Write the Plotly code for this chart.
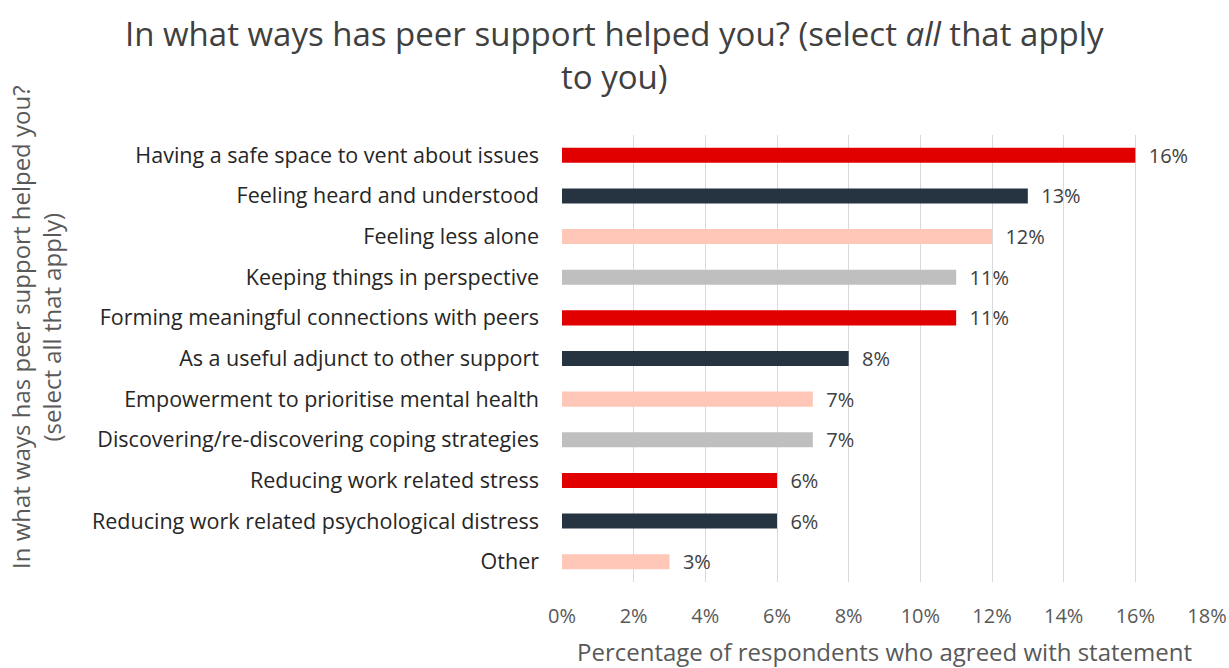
import plotly.graph_objects as go

categories = [
    "Having a safe space to vent about issues",
    "Feeling heard and understood",
    "Feeling less alone",
    "Keeping things in perspective",
    "Forming meaningful connections with peers",
    "As a useful adjunct to other support",
    "Empowerment to prioritise mental health",
    "Discovering/re-discovering coping strategies",
    "Reducing work related stress",
    "Reducing work related psychological distress",
    "Other",
]
values = [16, 13, 12, 11, 11, 8, 7, 7, 6, 6, 3]
palette = ["#E00000", "#263340", "#FFC7B8", "#BFBFBF"]
colors = [palette[i % 4] for i in range(len(values))]
tick_vals = [0, 2, 4, 6, 8, 10, 12, 14, 16, 18]
tick_text = [f"{v}%" for v in tick_vals]

FONT = "Open Sans"
L, R, T, B = 562, 22, 135, 86
W, H = 1229, 668
PW, PH = W - L - R, H - T - B

fig = go.Figure(go.Bar(
    y=categories,
    x=values,
    orientation="h",
    marker=dict(color=colors, line=dict(width=0)),
    width=0.37,
    text=[f"\u00a0\u00a0{v}%" for v in values],
    textposition="outside",
    constraintext="none",
    textfont=dict(size=20, color="#404040", family=FONT),
    cliponaxis=False,
))

fig.update_layout(
    width=W, height=H,
    margin=dict(l=L, r=R, t=T, b=B, autoexpand=False),
    paper_bgcolor="white", plot_bgcolor="white",
    showlegend=False,
    font=dict(family=FONT, color="#595959"),
    xaxis=dict(
        range=[0, 18], tickvals=tick_vals, ticktext=tick_text,
        showgrid=True, gridcolor="#D9D9D9", gridwidth=1,
        zeroline=False, showline=False, automargin=False,
        tickfont=dict(size=20, color="#595959"),
        title=dict(text="Percentage of respondents who agreed with statement",
                   font=dict(size=24, color="#595959"), standoff=20),
        ticks="", ticklabelstandoff=20,
    ),
    yaxis=dict(
        autorange="reversed", automargin=False,
        showgrid=False, zeroline=False, showline=False,
        tickfont=dict(size=21.5, color="#262626"),
        ticks="", ticklabelstandoff=22,
    ),
)

# chart title
fig.add_annotation(
    text="In what ways has peer support helped you? (select <i>all</i> that apply<br>to you)",
    xref="paper", yref="paper",
    x=(W / 2 - L) / PW, y=1 + (T - 55) / PH,
    xanchor="center", yanchor="middle", align="center",
    showarrow=False,
    font=dict(size=33, color="#404040", family=FONT),
)

# y-axis title
fig.add_annotation(
    text="In what ways has peer support helped you?<br>(select all that apply)",
    xref="paper", yref="paper",
    x=(36 - L) / PW, y=1 - (327 - T) / PH,
    xanchor="center", yanchor="middle",
    textangle=-90, showarrow=False,
    font=dict(size=24, color="#595959", family=FONT),
)

fig.write_html("out.html")
